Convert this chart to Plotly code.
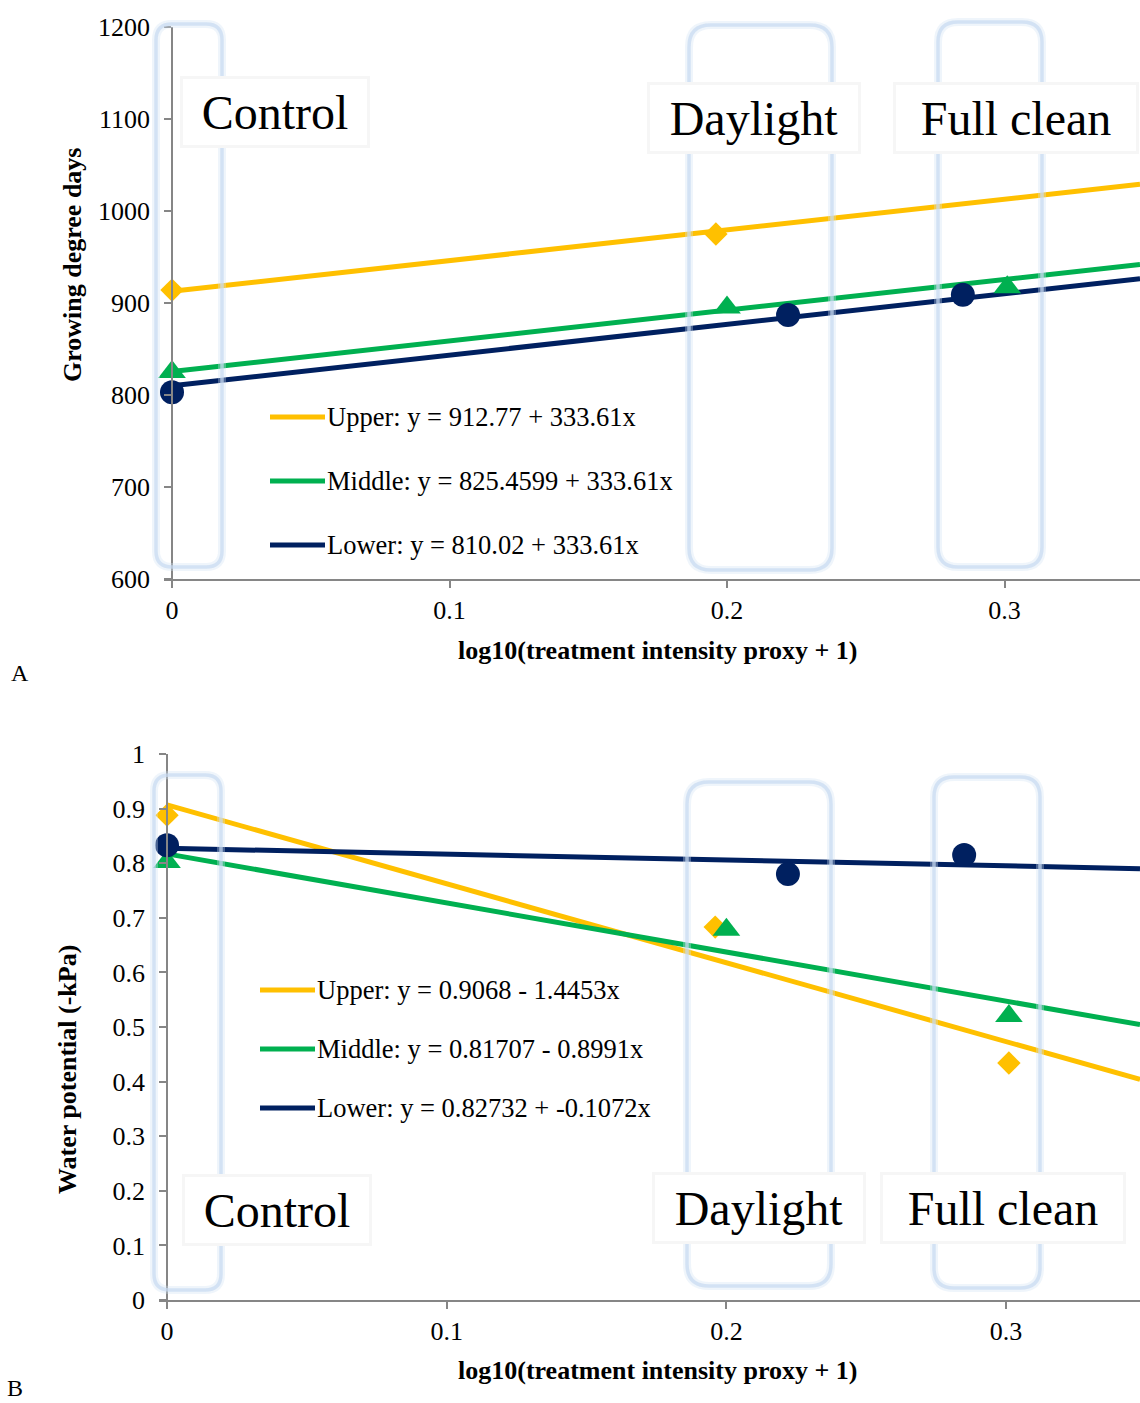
import plotly.graph_objects as go

W, H = 1140, 1403
FONT = "Liberation Serif"

series_names = ["Upper", "Middle", "Lower"]
colors = ["#FFC000", "#00B050", "#002060"]
symbols = ["diamond", "triangle-up", "circle"]
marker_sizes = [18, 24, 24]

# Panel A: growing degree days
a_x = [[0.0, 0.196], [0.0, 0.200, 0.301], [0.0, 0.222, 0.285]]
a_y = [[914, 975], [825, 895, 917], [803, 887, 909]]
a_intercept = [912.77, 825.4599, 810.02]
a_slope = [333.61, 333.61, 333.61]
a_legend = ["Upper: y = 912.77 + 333.61x",
            "Middle: y = 825.4599 + 333.61x",
            "Lower: y = 810.02 + 333.61x"]

# Panel B: water potential
b_x = [[0.0, 0.196, 0.301], [0.0, 0.200, 0.301], [0.0, 0.222, 0.285]]
b_y = [[0.888, 0.683, 0.434], [0.802, 0.678, 0.520], [0.833, 0.780, 0.815]]
b_intercept = [0.9068, 0.81707, 0.82732]
b_slope = [-1.4453, -0.8991, -0.1072]
b_legend = ["Upper: y = 0.9068 - 1.4453x",
            "Middle: y = 0.81707 - 0.8991x",
            "Lower: y = 0.82732 + -0.1072x"]

treatments = ["Control", "Daylight", "Full clean"]


def px(x):
    return x / W


def py(y):
    return 1 - y / H


a_xrange = [-8 / 2775, (W - 172) / 2775]
b_xrange = [-8 / 2797, (W - 167) / 2797]

fig = go.Figure()

for panel, (xs, ys, ic, sl, xr, xa, ya) in enumerate([
        (a_x, a_y, a_intercept, a_slope, a_xrange, "x", "y"),
        (b_x, b_y, b_intercept, b_slope, b_xrange, "x2", "y2")]):
    for i in range(3):
        lx = [0.0, xr[1]]
        fig.add_trace(go.Scatter(
            x=lx, y=[ic[i] + sl[i] * v for v in lx], mode="lines",
            line=dict(color=colors[i], width=5), xaxis=xa, yaxis=ya,
            showlegend=False, hoverinfo="skip", cliponaxis=True))
    for i in range(3):
        fig.add_trace(go.Scatter(
            x=xs[i], y=ys[i], mode="markers", name=series_names[i],
            marker=dict(color=colors[i], symbol=symbols[i], size=marker_sizes[i],
                        line=dict(width=0)),
            xaxis=xa, yaxis=ya, showlegend=False, cliponaxis=False))

axis_common = dict(showgrid=False, zeroline=False, showline=True,
                   linecolor="#868686", linewidth=1.5, ticks="outside",
                   ticklen=7, tickcolor="#868686", tickwidth=1.5,
                   tickfont=dict(family=FONT, size=26, color="black"))

fig.update_layout(
    width=W, height=H, margin=dict(l=0, r=0, t=0, b=0, autoexpand=False),
    paper_bgcolor="white", plot_bgcolor="white", showlegend=False,
    xaxis=dict(domain=[px(164), 1], range=a_xrange, anchor="y",
               tickvals=[0, 0.1, 0.2, 0.3], ticktext=["0", "0.1", "0.2", "0.3"],
               ticklabelstandoff=0, **axis_common),
    yaxis=dict(domain=[py(579), py(27)], range=[600, 1200], anchor="free",
               position=px(172), dtick=100, ticklabelstandoff=9, **axis_common),
    xaxis2=dict(domain=[px(159), 1], range=b_xrange, anchor="y2",
                tickvals=[0, 0.1, 0.2, 0.3], ticktext=["0", "0.1", "0.2", "0.3"],
                ticklabelstandoff=0, **axis_common),
    yaxis2=dict(domain=[py(1300), py(754)], range=[0, 1], anchor="free",
                position=px(167), dtick=0.1, ticklabelstandoff=9, **axis_common),
)


def rounded_rect(x0, y0, x1, y1, r):
    rx, ry = r / W, r / H
    X0, X1 = px(x0), px(x1)
    Y0, Y1 = py(y0), py(y1)
    return (f"M {X0 + rx},{Y0} L {X1 - rx},{Y0} Q {X1},{Y0} {X1},{Y0 - ry} "
            f"L {X1},{Y1 + ry} Q {X1},{Y1} {X1 - rx},{Y1} "
            f"L {X0 + rx},{Y1} Q {X0},{Y1} {X0},{Y1 + ry} "
            f"L {X0},{Y0 - ry} Q {X0},{Y0} {X0 + rx},{Y0} Z")


boxes = [
    (156, 24, 222, 567, 16), (689, 25, 832, 570, 22), (938, 22, 1042, 567, 20),
    (154, 775, 221, 1290, 16), (687, 782, 831, 1286, 22), (934, 777, 1040, 1288, 20),
]
shapes = []
for b in boxes:
    p = rounded_rect(*b)
    shapes.append(dict(type="path", path=p, xref="paper", yref="paper", layer="above",
                       line=dict(color="rgba(210,225,244,0.35)", width=8)))
    shapes.append(dict(type="path", path=p, xref="paper", yref="paper", layer="above",
                       line=dict(color="rgba(200,218,241,0.7)", width=3.5)))

legend_rows = [([417, 481, 545], 270, 325, 325, a_legend),
               ([990, 1049, 1108], 260, 315, 315, b_legend)]
annotations = []
for ys_, lx0, lx1, tx, texts in legend_rows:
    for i, yy in enumerate(ys_):
        shapes.append(dict(type="line", xref="paper", yref="paper",
                           x0=px(lx0), x1=px(lx1), y0=py(yy), y1=py(yy),
                           line=dict(color=colors[i], width=5), layer="above"))
        annotations.append(dict(text=texts[i], xref="paper", yref="paper",
                                x=px(tx), y=py(yy), xanchor="left", yanchor="middle",
                                showarrow=False,
                                font=dict(family=FONT, size=26.5, color="black")))

label_pos = [(275, 112, 176), (754, 118, 200), (1016, 118, 232),
             (277, 1210, 176), (759, 1208, 200), (1003, 1208, 232)]
for k, (cx, cy, w) in enumerate(label_pos):
    annotations.append(dict(text=treatments[k % 3], xref="paper", yref="paper",
                            x=px(cx), y=py(cy), xanchor="center", yanchor="middle",
                            showarrow=False, bgcolor="white",
                            bordercolor="rgba(246,246,246,1)", borderwidth=3,
                            borderpad=4, width=w, height=58,
                            font=dict(family=FONT, size=48, color="black")))

titles = [("Growing degree days", 72, 265, -90),
          ("log10(treatment intensity proxy + 1)", 657, 650, 0),
          ("Water potential (-kPa)", 67, 1070, -90),
          ("log10(treatment intensity proxy + 1)", 657, 1370, 0)]
for t, cx, cy, ang in titles:
    annotations.append(dict(text=f"<b>{t}</b>", xref="paper", yref="paper",
                            x=px(cx), y=py(cy), xanchor="center", yanchor="middle",
                            textangle=ang, showarrow=False,
                            font=dict(family=FONT, size=26, color="black")))

for t, cx, cy in [("A", 20, 673), ("B", 15, 1388)]:
    annotations.append(dict(text=t, xref="paper", yref="paper", x=px(cx), y=py(cy),
                            xanchor="center", yanchor="middle", showarrow=False,
                            font=dict(family=FONT, size=24, color="black")))

fig.update_layout(shapes=shapes, annotations=annotations)
fig.write_html("out.html",
               config={"displayModeBar": False},
               post_script="document.body.style.margin='0px';"
                           "document.body.style.overflow='hidden';")
